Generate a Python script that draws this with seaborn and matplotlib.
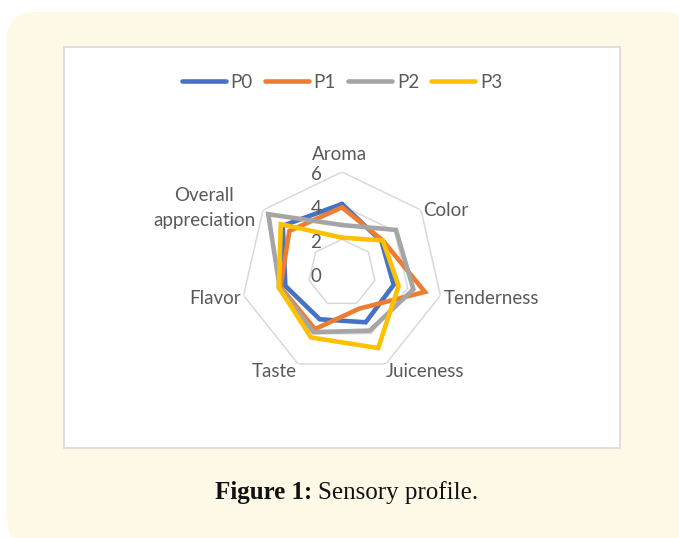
import numpy as np
import pandas as pd
import matplotlib
matplotlib.use("Agg")
import matplotlib.pyplot as plt
from matplotlib.patches import FancyBboxPatch, Rectangle
from matplotlib.lines import Line2D
import seaborn as sns

# ---- data ----
categories = ["Aroma", "Color", "Tenderness", "Juiceness", "Taste", "Flavor",
              "Overall\nappreciation"]
p0 = [4.1, 3.0, 3.15, 3.25, 3.05, 3.45, 4.5]
p1 = [3.9, 3.1, 5.05, 2.35, 3.7, 3.75, 4.0]
p2 = [2.85, 4.1, 4.35, 3.8, 3.9, 3.8, 5.6]
p3 = [2.1, 3.1, 3.45, 4.95, 4.25, 3.85, 4.65]
series_names = ["P0", "P1", "P2", "P3"]
tick_values = [0, 2, 4, 6]

colors = ["#4472C4", "#ED7D31", "#A5A5A5", "#FFC000"]
label_color = "#595959"

sns.set_theme(style="white")
plt.rcParams["font.family"] = ["Lato", "DejaVu Sans"]

W, H = 679, 538
fig = plt.figure(figsize=(W / 100, H / 100), dpi=100)
fig.patch.set_facecolor("white")

# background decorations (inches)
outer = FancyBboxPatch((0.07, -0.07), 6.83, 5.33,
                       boxstyle="round,pad=0,rounding_size=0.26",
                       transform=fig.dpi_scale_trans, facecolor="#FEF9E7",
                       edgecolor="none", zorder=-3)
fig.patches.append(outer)
inner = Rectangle((0.64, 0.90), 5.56, 4.01, transform=fig.dpi_scale_trans,
                  facecolor="white", edgecolor="#D9D9D9", linewidth=1.2, zorder=-2)
fig.patches.append(inner)

# radar axes
cx, cy, R = 342, 273, 101
ax = fig.add_axes([(cx - R) / W, 1 - (cy + R) / H, 2 * R / W, 2 * R / H],
                  projection="polar")
ax.set_theta_zero_location("N")
ax.set_theta_direction(-1)
ax.set_ylim(0, 6)
ax.grid(False)
ax.set_xticks([])
ax.set_yticks([])
ax.spines["polar"].set_visible(False)
ax.patch.set_alpha(0)

n = len(categories)
theta = np.linspace(0, 2 * np.pi, n, endpoint=False)
theta_closed = np.append(theta, theta[0])

# gridlines (heptagons)
for v in tick_values[1:]:
    ax.plot(theta_closed, [v] * (n + 1), color="#D9D9D9", lw=1.1, zorder=1)

rows = []
for name, vals in zip(series_names, [p0, p1, p2, p3]):
    vv = list(vals) + [vals[0]]
    for i, (t, v) in enumerate(zip(theta_closed, vv)):
        rows.append({"series": name, "theta": t, "value": v, "order": i})
df = pd.DataFrame(rows)

for name, col in zip(series_names, colors):
    sub = df[df["series"] == name]
    sns.lineplot(data=sub, x="theta", y="value", sort=False, estimator=None,
                 color=col, lw=3.3, ax=ax, legend=False, zorder=3)
    ax.lines[-1].set_solid_joinstyle("miter")
ax.set_xlabel("")
ax.set_ylabel("")
ax.set_ylim(0, 6)
ax.set_xticks([])
ax.set_yticks([])
ax.grid(False)

fs = 13.5
# category labels
offsets = [((-3, 17), "center"), ((2, 0), "left"), ((3, -3), "left"),
           ((0, -8), "left"), ((-1, -8), "right"), ((-3, -3), "right"),
           ((-59, 2), "center")]
for cat, t, (off, ha) in zip(categories, theta, offsets):
    ax.annotate(cat, xy=(t, 6), xytext=off, textcoords="offset pixels",
                ha=ha, va="center", fontsize=fs, color=label_color,
                multialignment="center", linespacing=1.55, annotation_clip=False)

# radial tick labels
for v in tick_values:
    ax.annotate(str(v), xy=(0, v), xytext=(-26, -3), textcoords="offset pixels",
                ha="center", va="center", fontsize=fs, color=label_color,
                annotation_clip=False)

# legend
handles = [Line2D([0], [0], color=c, lw=3.3, solid_capstyle="round")
           for c in colors]
fig.legend(handles, series_names, loc="center", bbox_to_anchor=(342 / W, 1 - 82.5 / H),
           ncol=4, frameon=False, fontsize=fs, handlelength=2.35,
           handletextpad=0.25, columnspacing=0.65, labelcolor=label_color)

# caption
cap_y = 1 - 493 / H
t1 = fig.text(215 / W, cap_y, "Figure 1:", fontsize=18, fontweight="bold",
              family=["Liberation Serif"], ha="left", va="center", color="#111111")
fig.canvas.draw()
bb = t1.get_window_extent()
fig.text((bb.x1 + 6) / W, cap_y, "Sensory profile.", fontsize=18,
         family=["Liberation Serif"], ha="left", va="center", color="#111111")

fig.savefig("out.png", dpi=100)
